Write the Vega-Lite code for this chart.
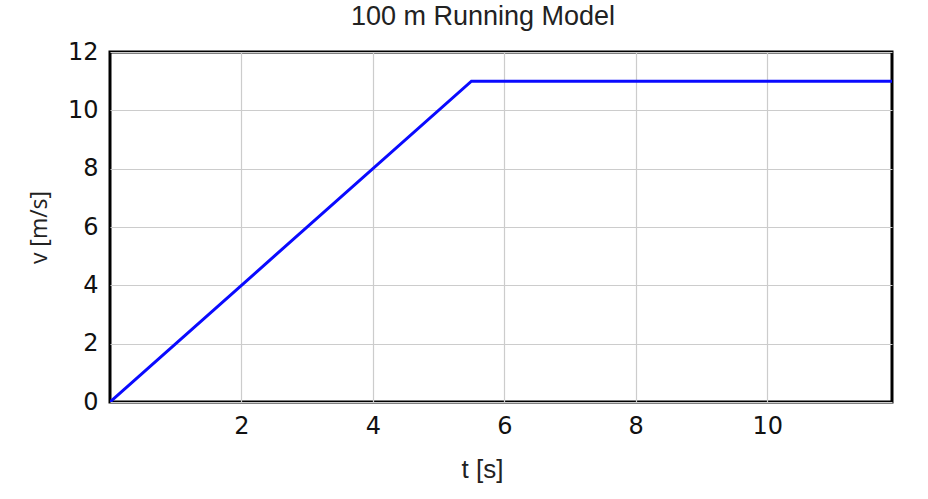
{
  "$schema": "https://vega.github.io/schema/vega-lite/v6.json",
  "description": "100 m Running Model: velocity against time",
  "background": "white",
  "autosize": "none",
  "padding": {"left": 110, "top": 52, "right": 36, "bottom": 97},
  "width": 782,
  "height": 350,
  "title": {
    "text": "100 m Running Model",
    "font": "Liberation Sans",
    "fontSize": 27,
    "fontWeight": "normal",
    "color": "#222222",
    "anchor": "middle",
    "dx": -18,
    "offset": 9
  },
  "data": {
    "values": [
      {"t": 0, "v": 0},
      {"t": 5.5, "v": 11},
      {"t": 11.9, "v": 11}
    ]
  },
  "mark": {"type": "line", "color": "#0a0aff", "strokeWidth": 3, "clip": true},
  "encoding": {
    "x": {
      "field": "t",
      "type": "quantitative",
      "title": "t [s]",
      "scale": {"domain": [0, 11.9], "nice": false, "zero": false},
      "axis": {
        "values": [2, 4, 6, 8, 10],
        "labelFont": "DejaVu Sans",
        "labelFontSize": 24,
        "labelColor": "#111111",
        "labelPadding": 12,
        "ticks": false,
        "domain": false,
        "gridColor": "#cccccc",
        "gridWidth": 1.2,
        "titleFont": "Liberation Sans",
        "titleFontSize": 26,
        "titleFontWeight": "normal",
        "titleColor": "#222222",
        "titlePadding": 18,
        "titleX": 372
      }
    },
    "y": {
      "field": "v",
      "type": "quantitative",
      "title": "v [m/s]",
      "scale": {"domain": [0, 12], "nice": false},
      "axis": {
        "values": [0, 2, 4, 6, 8, 10, 12],
        "labelFont": "DejaVu Sans",
        "labelFontSize": 24,
        "labelColor": "#111111",
        "labelPadding": 12,
        "ticks": false,
        "domain": false,
        "gridColor": "#cccccc",
        "gridWidth": 1.2,
        "titleFont": "Open Sans",
        "titleFontSize": 23,
        "titleFontWeight": "normal",
        "titleColor": "#222222",
        "titlePadding": 16
      }
    }
  },
  "config": {
    "view": {"stroke": "black", "strokeWidth": 3, "fill": "white"}
  }
}
